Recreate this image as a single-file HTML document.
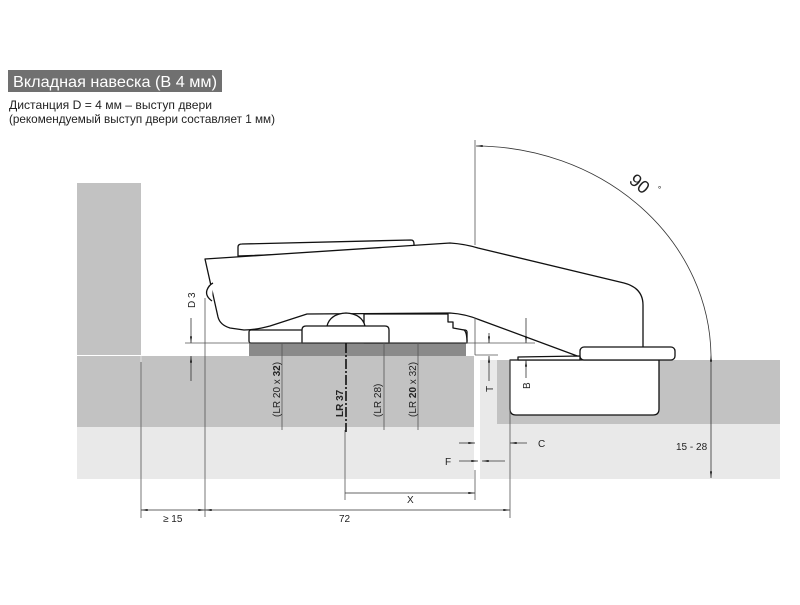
<!DOCTYPE html>
<html><head><meta charset="utf-8"><style>
body{margin:0;background:#fff;width:800px;height:600px;overflow:hidden;font-family:"Liberation Sans",sans-serif}
</style></head><body>
<svg width="800" height="600" viewBox="0 0 800 600" xmlns="http://www.w3.org/2000/svg" font-family="Liberation Sans, sans-serif">
<defs>
<marker id="a" viewBox="0 0 10 6" refX="10" refY="3" markerWidth="10" markerHeight="4" orient="auto-start-reverse" markerUnits="userSpaceOnUse"><path d="M0,1.5 L10,3 L0,4.5z" fill="#111"/></marker>
</defs>
<rect x="8" y="70" width="214" height="22" fill="#707070"/>
<text x="13" y="87" font-size="16" fill="#fff" textLength="204" lengthAdjust="spacingAndGlyphs">Вкладная навеска (B 4 мм)</text>
<text x="9" y="109" font-size="12" fill="#222" textLength="203" lengthAdjust="spacingAndGlyphs">Дистанция D = 4 мм – выступ двери</text>
<text x="9" y="123" font-size="12" fill="#222" textLength="266" lengthAdjust="spacingAndGlyphs">(рекомендуемый выступ двери составляет 1 мм)</text>

<rect x="77" y="183" width="64" height="172" fill="#c2c2c2"/>
<rect x="77" y="356" width="397" height="71" fill="#c2c2c2"/>
<rect x="77" y="427" width="397" height="52" fill="#e9e9e9"/>
<rect x="480" y="360" width="17" height="119" fill="#e9e9e9"/>
<rect x="497" y="360" width="283" height="64" fill="#c2c2c2"/>
<rect x="497" y="424" width="283" height="55" fill="#e9e9e9"/>
<line x1="141" y1="356" x2="141" y2="479" stroke="#e0e0e0" stroke-width="1"/>
<rect x="249" y="343" width="217" height="13" fill="#8a8a8a"/>

<g fill="#fff" stroke="#111" stroke-width="1.3" stroke-linejoin="round">
<path d="M238,256 L238,247 Q238,244 242,244 L411,240 Q414,240 414,244 L414,250 Z"/>
<path d="M205,259 L450,243 Q465,244 478,248 L624,283 Q643,288 643,305 L643,348 L600,350 L580,357 L480,320 Q466,314 450,313 L307,314 L270,326 Q255,330 244,330 L230,328 Q220,325 218,317 Z"/>
<path d="M212,301 Q205,296 207,290 Q209,285 213,283"/>
<rect x="249" y="330" width="218" height="13" rx="2"/>
<path d="M364,314 L448,314 L448,322 L453,322 L453,328 L464,330 Q467,332 467,343 L364,343Z"/>
<path d="M327,326 Q330,314 346,313 Q362,314 365,326Z"/>
<path d="M302,343 L302,330 Q302,326 306,326 L385,326 Q389,326 389,330 L389,343Z"/>
<path d="M510,360 L659,360 L659,409 Q659,415 653,415 L516,415 Q510,415 510,409Z"/>
<path d="M518,360 L518,357 L580,356 L580,360Z"/>
<rect x="580" y="347" width="95" height="13" rx="4"/>
</g>

<g stroke="#555" stroke-width="0.8" fill="none">
<line x1="205" y1="298" x2="205" y2="517"/>
<line x1="141" y1="362" x2="141" y2="518"/>
<line x1="185" y1="343" x2="470" y2="343"/>
<line x1="475" y1="140" x2="475" y2="245"/>
<line x1="475" y1="318" x2="475" y2="355"/>
<line x1="475" y1="355" x2="498" y2="355"/>
<line x1="470" y1="343" x2="535" y2="343"/>
<line x1="282" y1="343" x2="282" y2="430"/>
<line x1="384" y1="343" x2="384" y2="430"/>
<line x1="418" y1="343" x2="418" y2="430"/>
<line x1="510" y1="360" x2="510" y2="518"/>
<line x1="475" y1="470" x2="475" y2="500"/>
<line x1="345" y1="430" x2="345" y2="500"/>
</g>
<line x1="346" y1="343" x2="346" y2="432" stroke="#111" stroke-width="1.6" stroke-dasharray="10,2,2,2"/>
<g stroke="#333" stroke-width="0.8" fill="none">
<line x1="191" y1="318" x2="191" y2="343" marker-end="url(#a)"/>
<line x1="191" y1="381" x2="191" y2="356" marker-end="url(#a)"/>
<line x1="489" y1="333" x2="489" y2="343" marker-end="url(#a)"/>
<line x1="489" y1="381" x2="489" y2="356" marker-end="url(#a)"/>
<line x1="526" y1="318" x2="526" y2="343" marker-end="url(#a)"/>
<line x1="526" y1="378" x2="526" y2="360" marker-end="url(#a)"/>
<line x1="711" y1="355" x2="711" y2="478" marker-start="url(#a)" marker-end="url(#a)"/>
<line x1="459" y1="443" x2="475" y2="443" marker-end="url(#a)"/>
<line x1="527" y1="443" x2="510" y2="443" marker-end="url(#a)"/>
<line x1="459" y1="461" x2="478" y2="461" marker-end="url(#a)"/>
<line x1="505" y1="461" x2="482" y2="461" marker-end="url(#a)"/>
<line x1="345" y1="493" x2="475" y2="493" marker-end="url(#a)"/>
<line x1="141" y1="510" x2="205" y2="510" marker-start="url(#a)" marker-end="url(#a)"/>
<line x1="205" y1="510" x2="510" y2="510" marker-start="url(#a)" marker-end="url(#a)"/>
<path d="M711,355 A236,212 0 0 0 476,146" marker-end="url(#a)"/>
</g>

<g font-size="10" fill="#222">
<text transform="translate(195,308) rotate(-90)">D 3</text>
<text transform="translate(493,392) rotate(-90)">T</text>
<text transform="translate(530,389) rotate(-90)">B</text>
<text transform="translate(280,417) rotate(-90)">(LR 20 x <tspan font-weight="bold">32</tspan>)</text>
<text transform="translate(343,417) rotate(-90)" font-weight="bold">LR 37</text>
<text transform="translate(381,417) rotate(-90)">(LR 28)</text>
<text transform="translate(416,417) rotate(-90)">(LR <tspan font-weight="bold">20</tspan> x 32)</text>
<text x="538" y="447">C</text>
<text x="445" y="465">F</text>
<text x="407" y="503">X</text>
<text x="676" y="450">15 - 28</text>
<text x="163" y="522">≥ 15</text>
<text x="339" y="522">72</text>
<text transform="translate(628,182) rotate(40)" font-size="18">90</text>
<text transform="translate(655,190) rotate(40)" font-size="9">°</text>
</g>
</svg>
</body></html>
